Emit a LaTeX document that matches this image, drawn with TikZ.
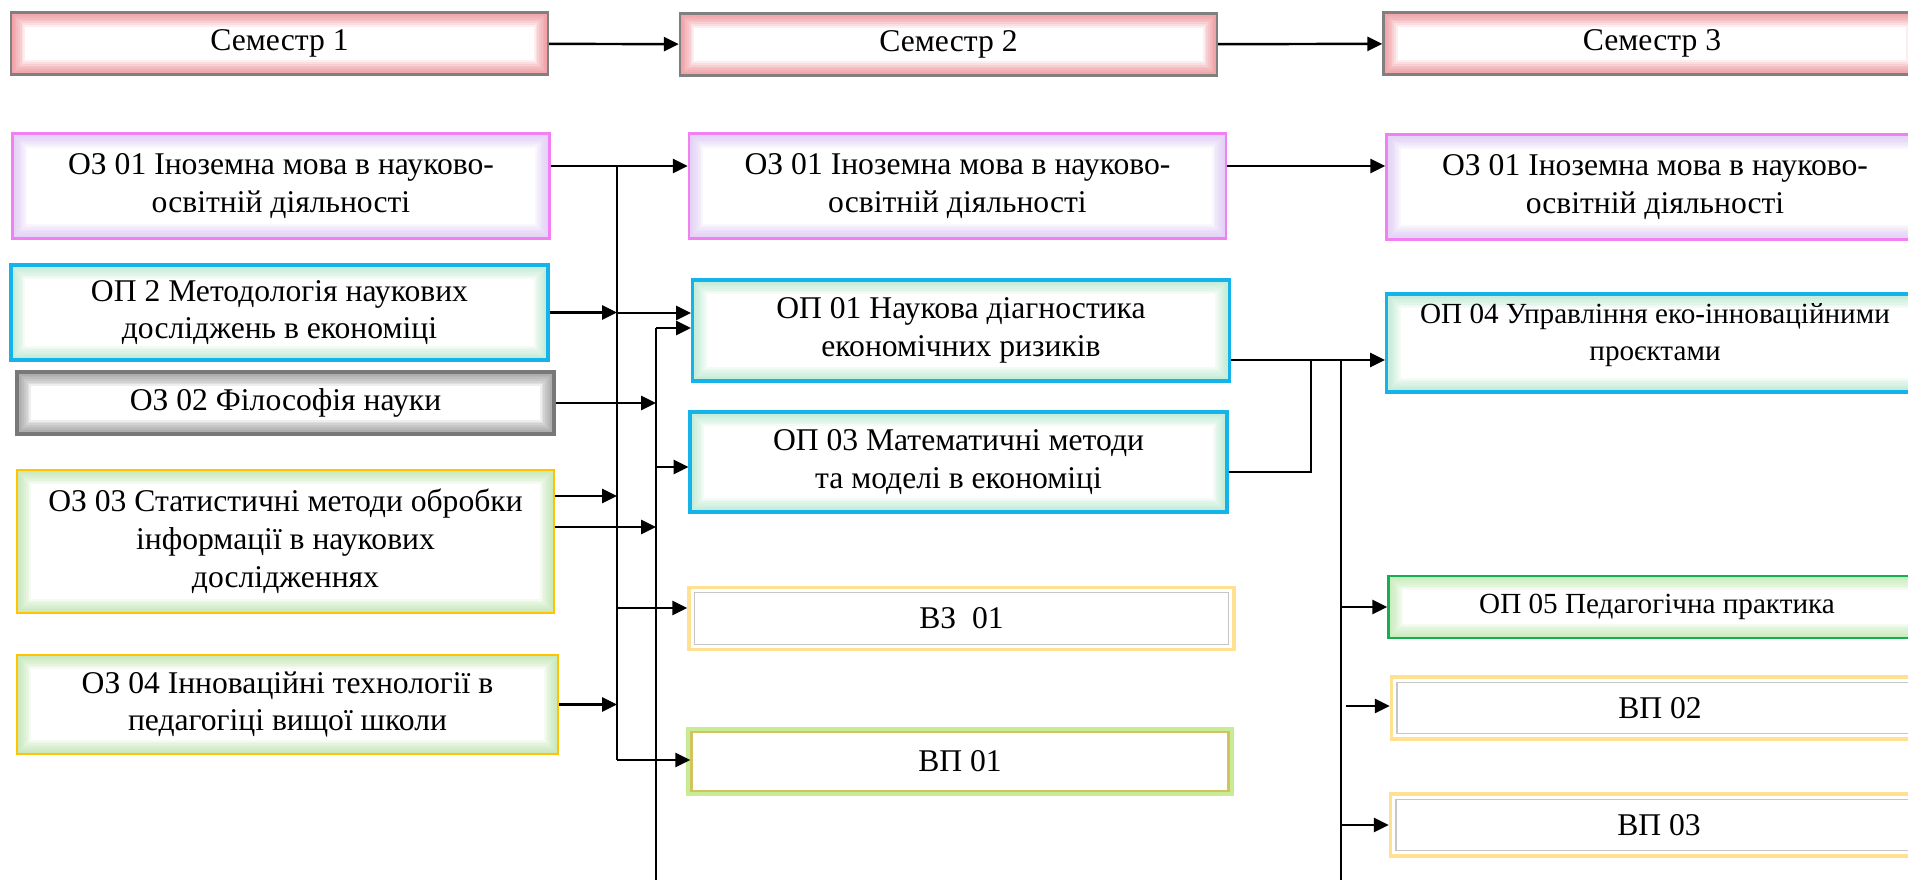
\documentclass[tikz,border=0pt]{standalone}
\usepackage{fontspec}
\setmainfont{Liberation Serif}
\usetikzlibrary{arrows.meta}

\definecolor{semline}{RGB}{128,128,128}
\definecolor{semglow}{RGB}{235,120,125}
\definecolor{ozline}{RGB}{242,128,242}
\definecolor{ozglow}{RGB}{215,190,245}
\definecolor{opline}{RGB}{20,180,235}
\definecolor{opglow}{RGB}{170,230,200}
\definecolor{grayline}{RGB}{120,120,120}
\definecolor{goldline}{RGB}{255,195,0}
\definecolor{goldglow}{RGB}{180,225,160}
\definecolor{vzline}{RGB}{255,225,145}
\definecolor{vpline}{RGB}{210,195,95}
\definecolor{vpglow}{RGB}{200,235,150}
\definecolor{pline}{RGB}{20,175,80}
\definecolor{pglow}{RGB}{180,230,160}

\begin{document}
\begin{tikzpicture}
  [x=0.02cm, y=-0.02cm, >={Triangle[length=8.5pt, width=8pt]},
   glow/.style={path picture={
     \foreach \w in {2,4,...,16}
       \draw[#1, line width=\w pt, opacity=.13] (path picture bounding box.south west) rectangle (path picture bounding box.north east);}},
   box/.style={rectangle, fill=white, line width=1.4pt, minimum width=10.74cm,
     align=center, inner sep=2pt, font=\fontsize{18}{21.5}\selectfont},
   small/.style={font=\fontsize{16.6}{21}\selectfont},
   sembox/.style={box, draw=semline, glow=semglow, minimum height=1.24cm},
   ozbox/.style={box, draw=ozline, glow=ozglow, minimum height=2.1cm},
   opbox/.style={box, draw=opline, line width=1.8pt, glow=opglow},
   graybox/.style={box, draw=grayline, line width=2pt, glow=gray, minimum height=1.24cm},
   goldbox/.style={box, draw=goldline, glow=goldglow},
   vzbox/.style={box, draw=vzline, line width=2pt, minimum height=1.24cm,
     path picture={\draw[gray!45, line width=0.8pt] ([shift={(3pt,3pt)}]path picture bounding box.south west) rectangle ([shift={(-3pt,-3pt)}]path picture bounding box.north east);}},
   vpbox/.style={box, draw=vpline, preaction={draw=vpglow, line width=6pt}, minimum height=1.18cm},
   pbox/.style={box, draw=pline, glow=pglow, minimum height=1.24cm},
   con/.style={line width=1.4pt},
   thinline/.style={line width=0.8pt}]
  \useasboundingbox (0,0) rectangle (1908,880);
  \clip (0,0) rectangle (1908,880);

  % semesters
  \node[sembox] (sem1) at (279.5,43.5) {Семестр 1};
  \node[sembox] (sem2) at (948.5,44.5) {Семестр 2};
  \node[sembox] (sem3) at (1652,43.5) {Семестр 3};

  % first semester
  \node[ozbox] (oza) at (281,186) {ОЗ 01 Іноземна мова в науково-\\освітній діяльності};
  \node[opbox, minimum height=1.9cm] (op2) at (279.5,312.5) {ОП 2 Методологія наукових\\досліджень в економіці};
  \node[graybox] (oz2) at (285.5,403) {ОЗ 02 Філософія науки};
  \node[goldbox, minimum height=2.86cm] (oz3) at (285.5,541.5) {ОЗ 03 Статистичні методи обробки\\інформації в наукових\\дослідженнях};
  \node[goldbox, minimum height=1.98cm, minimum width=10.82cm] (oz4) at (287.5,704.5) {ОЗ 04 Інноваційні технології в\\педагогіці вищої школи};

  % second semester
  \node[ozbox] (ozb) at (957.5,186) {ОЗ 01 Іноземна мова в науково-\\освітній діяльності};
  \node[opbox, minimum height=2.02cm] (op1) at (961,330.5) {ОП 01 Наукова діагностика\\економічних ризиків};
  \node[opbox, minimum height=2cm] (op3) at (958.5,462) {ОП 03 Математичні методи\\та моделі в економіці};
  \node[vzbox, minimum width=10.9cm] (vz1) at (961.5,618.5) {ВЗ~~01};
  \node[vpbox] (vp1) at (960,761.5) {ВП 01};

  % third semester
  \node[ozbox] (ozc) at (1655,187) {ОЗ 01 Іноземна мова в науково-\\освітній діяльності};
  \node[opbox, small, minimum height=1.96cm, text depth=0.45cm] (op4) at (1655,343) {ОП 04 Управління еко-інноваційними\\проєктами};
  \node[pbox, small] (op5) at (1657,607) {ОП 05 Педагогічна практика};
  \node[vzbox] (vp2) at (1660,708) {ВП 02};
  \node[vzbox] (vp3) at (1659,825) {ВП 03};

  % bus lines
  \coordinate (p1) at (617,166);
  \coordinate (p2) at (617,760);
  \coordinate (q1) at (656,328);
  \coordinate (q2) at (656,880);
  \coordinate (r1) at (1341,360);
  \coordinate (r2) at (1341,880);
  \coordinate (t1) at (617,496);
  \coordinate (t2) at (656,527);
  \coordinate (u1) at (617,313);
  \coordinate (u2) at (617,608);
  \coordinate (v1) at (656,467);
  \coordinate (w1) at (1311,472);
  \coordinate (x1) at (1346,706);

  \draw[con, ->] (sem1) -- (sem2);
  \draw[con, ->] (sem2) -- (sem3);
  \draw[con, ->] (oza.east |- p1) -- (ozb.west |- p1);
  \draw[con, ->] (ozb.east |- p1) -- (ozc.west |- p1);

  \draw[con] (p1) -- (p2);
  \draw[con, ->] (p2) -- (p2 -| vp1.west);
  \draw[con, ->] (op2.east) -- (op2.east -| p1);
  \draw[con, ->] (t1 -| oz3.east) -- (t1);
  \draw[con, ->] (oz4.east) -- (oz4.east -| p1);
  \draw[con, ->] (u1) -- (u1 -| op1.west);
  \draw[con, ->] (u2) -- (u2 -| vz1.west);

  \draw[line width=1pt] (q2) -- (q1);
  \draw[con, ->] (q1) -- (q1 -| op1.west);
  \draw[con, ->] (oz2.east) -- (oz2.east -| q1);
  \draw[con, ->] (t2 -| oz3.east) -- (t2);
  \draw[con, ->] (v1) -- (v1 -| op3.west);

  \draw[con, ->] (r1 -| op1.east) -- (r1 -| op4.west);
  \draw[thinline] (w1 -| op3.east) -- (w1) -- (w1 |- r1);
  \draw[thinline] (r1) -- (r2);
  \draw[con, ->] (r1 |- op5.west) -- (op5.west);
  \draw[con, ->] (x1) -- (x1 -| vp2.west);
  \draw[con, ->] (r1 |- vp3.west) -- (vp3.west);
\end{tikzpicture}
\end{document}
